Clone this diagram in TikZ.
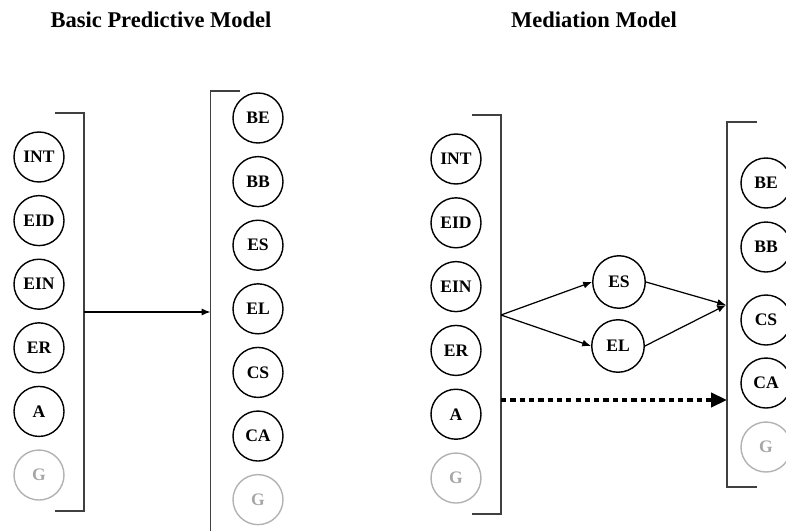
\documentclass[tikz,border=0pt]{standalone}
\usepackage{fontspec}
\setmainfont{Liberation Serif}
\usepackage{tikz}
\usetikzlibrary{arrows.meta, positioning}
\tikzset{
    var/.style={circle, draw, line width=0.8pt, minimum size=1cm, inner sep=0pt, font=\fontsize{10}{12}\selectfont\bfseries},
    ghost/.style={var, draw=black!30, text=black!35},
    brack/.style={draw=black!75, line width=0.7pt},
    arrow/.style={-{Latex[length=5pt,width=4pt]}, line width=0.7pt},
    dotarrow/.style={-{Triangle[length=9pt,width=8pt]}, line width=2pt, dash pattern=on 3pt off 2.3pt},
    title/.style={font=\fontsize{12.8}{15}\selectfont\bfseries},
}

\begin{document}
\begin{tikzpicture}[node distance=0.244cm]
    \useasboundingbox (0,0) rectangle (15.72,-10.62);

    % === TITLES ===
    \node[title] (t1) at (3.22,-0.40) {Basic Predictive Model};
    \node[title] (t2) at (11.88,-0.40) {Mediation Model};

    % === BASIC: PREDICTORS ===
    \node[var] (int) at (0.78,-3.14) {INT};
    \node[var, below=of int] (eid) {EID};
    \node[var, below=of eid] (ein) {EIN};
    \node[var, below=of ein] (er) {ER};
    \node[var, below=of er] (a) {A};
    \node[ghost, below=of a] (g) {G};

    % === BASIC: OUTCOMES ===
    \node[var] (be) at (5.16,-2.36) {BE};
    \node[var, below=of be] (bb) {BB};
    \node[var, below=of bb] (es) {ES};
    \node[var, below=of es] (el) {EL};
    \node[var, below=of el] (cs) {CS};
    \node[var, below=of cs] (ca) {CA};
    \node[ghost, below=of ca] (gout) {G};

    % brackets
    \coordinate (lbtop) at (1.68,-2.26);
    \coordinate (lbbot) at (1.68,-10.22);
    \coordinate (lbmid) at (1.68,-6.24);
    \draw[brack] ([xshift=-0.58cm]lbtop) -- (lbtop) -- (lbbot) -- ([xshift=-0.58cm]lbbot);
    \coordinate (rbtop) at (4.21,-1.82);
    \coordinate (rbbot) at (4.21,-10.62);
    \coordinate (rbmid) at (4.21,-6.24);
    \draw[brack] ([xshift=0.59cm]rbtop) -- (rbtop) -- (rbbot);

    \draw[arrow] (lbmid) -- (rbmid);

    % === MEDIATION: PREDICTORS ===
    \node[var] (mint) at (9.12,-3.18) {INT};
    \node[var, below=0.248cm of mint] (meid) {EID};
    \node[var, below=0.248cm of meid] (mein) {EIN};
    \node[var, below=0.248cm of mein] (mer) {ER};
    \node[var, below=0.248cm of mer] (ma) {A};
    \node[ghost, below=0.248cm of ma] (mg) {G};

    \coordinate (mltop) at (10.02,-2.30);
    \coordinate (mlbot) at (10.02,-10.28);
    \coordinate (mlsplit) at (10.02,-6.30);
    \coordinate (mldot) at (10.02,-8.00);
    \draw[brack] ([xshift=-0.58cm]mltop) -- (mltop) -- (mlbot) -- ([xshift=-0.58cm]mlbot);

    % === MEDIATORS ===
    \node[var, minimum size=1.05cm] (mes) at (12.38,-5.64) {ES};
    \node[var, minimum size=1.05cm] (mel) at (12.36,-6.92) {EL};

    % === MEDIATION: OUTCOMES ===
    \node[var] (mbe) at (15.32,-3.66) {BE};
    \node[var, below=0.252cm of mbe] (mbb) {BB};
    \node[var, below=0.432cm of mbb] (mcs) {CS};
    \node[var, below=0.232cm of mcs] (mca) {CA};
    \node[ghost, below=0.252cm of mca] (mgout) {G};

    \coordinate (mrtop) at (14.54,-2.44);
    \coordinate (mrbot) at (14.54,-9.74);
    \coordinate (mrjoin) at (14.52,-6.10);
    \coordinate (mrdot) at (14.54,-8.00);
    \draw[brack] ([xshift=0.60cm]mrtop) -- (mrtop) -- (mrbot) -- ([xshift=0.60cm]mrbot);

    \draw[arrow] (mlsplit) -- (mes.west);
    \draw[arrow] (mlsplit) -- (mel.west);
    \draw[arrow] (mes.east) -- (mrjoin);
    \draw[arrow] (mel.east) -- (mrjoin);
    \draw[dotarrow] (mldot) -- (mrdot);

\end{tikzpicture}
\end{document}
